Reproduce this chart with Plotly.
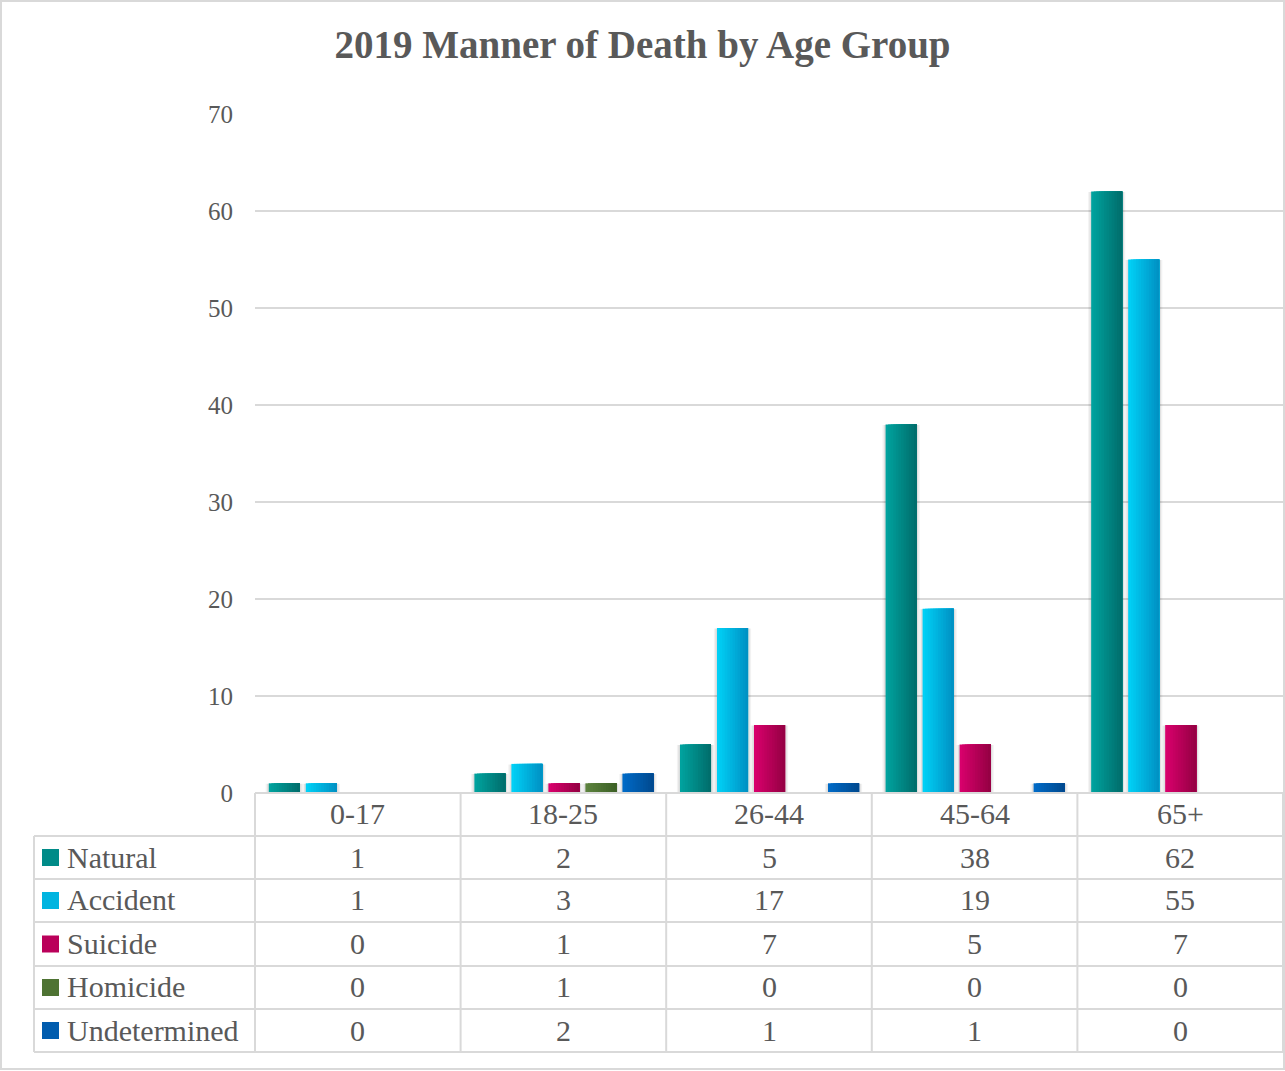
import plotly.graph_objects as go

# ---- data ---------------------------------------------------------------
categories = ["0-17", "18-25", "26-44", "45-64", "65+"]
series_names = ["Natural", "Accident", "Suicide", "Homicide", "Undetermined"]
natural = [1, 2, 5, 38, 62]
accident = [1, 3, 17, 19, 55]
suicide = [0, 1, 7, 5, 7]
homicide = [0, 1, 0, 0, 0]
undetermined = [0, 2, 1, 1, 0]
y_ticks = [0, 10, 20, 30, 40, 50, 60, 70]

series_values = [natural, accident, suicide, homicide, undetermined]

# light (left edge) -> dark (right edge) colour of each series' bar gradient
grad_left = ["#00a29e", "#00d0f6", "#d8006c", "#5c823e", "#006ac6"]
grad_right = ["#006e6c", "#0092c4", "#960044", "#3d6126", "#004a90"]

# ---- layout constants ----------------------------------------------------
W, H = 1285, 1071
L, R, T, B = 255, 2, 114, 278
PW, PH = W - L - R, H - T - B
FONT = "Liberation Serif"
TEXT = "#595959"
LINE = "#d9d9d9"
TABLE_SIZE = 30


def px(xp):
    return (xp - L) / PW


def py(yp):
    return (T + PH - yp) / PH


def hex2rgb(h):
    h = h.lstrip("#")
    return tuple(int(h[i:i + 2], 16) for i in (0, 2, 4))


def mix(c1, c2, t):
    a, b = hex2rgb(c1), hex2rgb(c2)
    return "rgb(%d,%d,%d)" % tuple(round(a[i] + (b[i] - a[i]) * t) for i in range(3))


# bar geometry in category units
bar_w = 0.151
bar_step = 0.18
first_off = -0.433
strips = 12

fig = go.Figure()

# soft shadow behind each bar
for i, vals in enumerate(series_values):
    off = first_off + i * bar_step
    for spread, alpha in ((0.030, 0.05), (0.016, 0.08)):
        fig.add_trace(go.Bar(
            x=categories, y=[v + 0.25 if v else 0 for v in vals],
            base=[-0.3] * len(vals),
            offset=off - spread / 2, width=bar_w + spread,
            marker=dict(color="rgba(0,0,0,%.2f)" % alpha, line=dict(width=0)),
            showlegend=False, hoverinfo="skip",
        ))

# bars, shaded light to dark: each layer starts further right and runs to
# the bar's right edge, so the layers stack into a seamless gradient
for i, vals in enumerate(series_values):
    off = first_off + i * bar_step
    sw = bar_w / strips
    for k in range(strips):
        t = k / (strips - 1)
        fig.add_trace(go.Bar(
            x=categories, y=vals,
            offset=off + k * sw, width=bar_w - k * sw,
            marker=dict(color=mix(grad_left[i], grad_right[i], t), line=dict(width=0)),
            name=series_names[i], showlegend=False,
            hovertemplate="%{x}: %{y}<extra>" + series_names[i] + "</extra>",
        ))

shapes = []
# outer chart border
shapes.append(dict(type="rect", xref="paper", yref="paper",
                   x0=px(1), x1=px(1284), y0=py(1069), y1=py(1),
                   line=dict(color=LINE, width=2), layer="below"))

# data table grid
row_lines = [793, 836, 879, 922, 966, 1009, 1052]
for j, yl in enumerate(row_lines):
    x_start = 255 if j == 0 else 34
    shapes.append(dict(type="line", xref="paper", yref="paper",
                       x0=px(x_start), x1=1.0, y0=py(yl), y1=py(yl),
                       line=dict(color=LINE, width=2)))
shapes.append(dict(type="line", xref="paper", yref="paper",
                   x0=px(34), x1=px(34), y0=py(836), y1=py(1052),
                   line=dict(color=LINE, width=2)))
for c in range(len(categories) + 1):
    xb = c / len(categories)
    shapes.append(dict(type="line", xref="paper", yref="paper",
                       x0=xb, x1=xb, y0=py(793), y1=py(1052),
                       line=dict(color=LINE, width=2)))

annotations = []
# header row: age groups
for c, cat in enumerate(categories):
    annotations.append(dict(x=cat, xref="x", y=py(814), yref="paper",
                            text=cat, showarrow=False,
                            font=dict(family=FONT, size=TABLE_SIZE, color=TEXT),
                            xanchor="center", yanchor="middle"))

# series rows: key swatch, series name, values
row_centers = [857, 900, 943.5, 987, 1030]
for i, (name, vals) in enumerate(zip(series_names, series_values)):
    yc = row_centers[i]
    shapes.append(dict(type="rect", xref="paper", yref="paper",
                       x0=px(42), x1=px(59), y0=py(yc + 9), y1=py(yc - 8),
                       fillcolor=mix(grad_left[i], grad_right[i], 0.45),
                       line=dict(width=0)))
    annotations.append(dict(x=px(65), xref="paper", y=py(yc), yref="paper",
                            text=name, showarrow=False,
                            font=dict(family=FONT, size=TABLE_SIZE, color=TEXT),
                            xanchor="left", yanchor="middle"))
    for cat, v in zip(categories, vals):
        annotations.append(dict(x=cat, xref="x", y=py(yc), yref="paper",
                                text=str(v), showarrow=False,
                                font=dict(family=FONT, size=TABLE_SIZE, color=TEXT),
                                xanchor="center", yanchor="middle"))

fig.update_layout(
    width=W, height=H,
    margin=dict(l=L, r=R, t=T, b=B, autoexpand=False),
    paper_bgcolor="white", plot_bgcolor="white",
    barmode="overlay",
    title=dict(text="<b>2019 Manner of Death by Age Group</b>",
               x=0.5, xref="container", xanchor="center",
               y=1 - 44 / H, yref="container", yanchor="middle",
               font=dict(family=FONT, size=39, color=TEXT)),
    xaxis=dict(type="category", categoryorder="array", categoryarray=categories,
               range=[-0.5, len(categories) - 0.5],
               showticklabels=False, showgrid=False, zeroline=False,
               showline=False, ticks="", fixedrange=True),
    yaxis=dict(range=[0, 70], tickvals=y_ticks, showgrid=True,
               gridcolor=LINE, gridwidth=2, zeroline=False, showline=False,
               ticks="", ticklabelstandoff=21,
               tickfont=dict(family=FONT, size=25, color=TEXT),
               fixedrange=True),
    shapes=shapes,
    annotations=annotations,
    showlegend=False,
)

fig.write_html("out.html")
